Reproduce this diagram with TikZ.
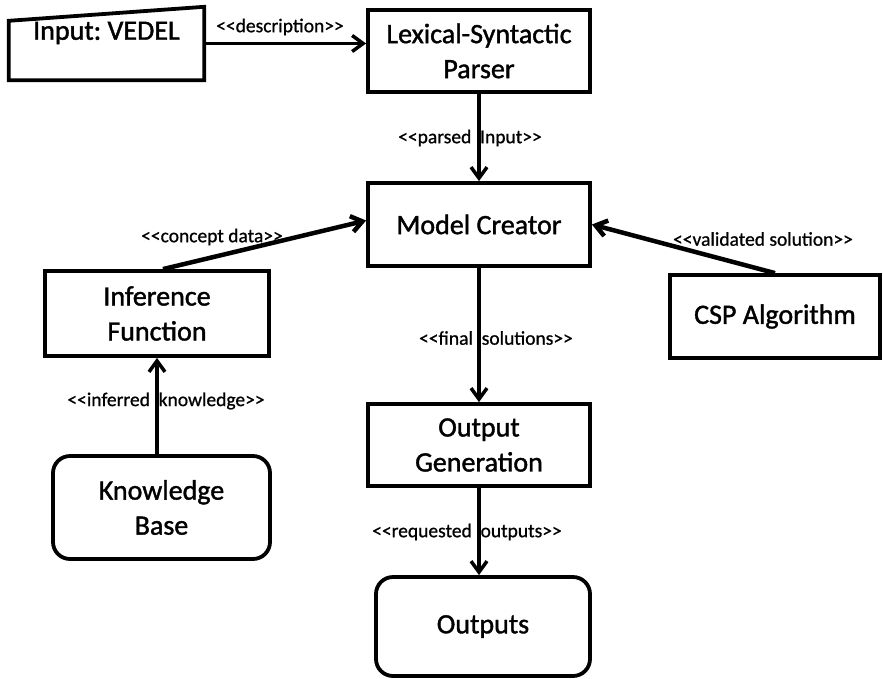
\documentclass[tikz,border=0pt]{standalone}
\usepackage{fontspec}
\setmainfont{Carlito}
\newfontfamily\heavyfont{Carlito}[FakeBold=1.4]
\newfontfamily\labfont{Carlito}[FakeBold=0.8]
\usetikzlibrary{arrows.meta,calc}
\newcommand{\stl}{<\kern0pt<}
\newcommand{\stg}{>\kern0pt>}
\begin{document}
\begin{tikzpicture}[x=1pt,y=-1pt,
  boxtext/.style={font=\heavyfont\fontsize{28}{35}\selectfont, align=center},
  box/.style={draw, line width=3.8pt, inner sep=0pt, boxtext},
  rbox/.style={box, rounded corners=17pt},
  lab/.style={font=\labfont\fontsize{19.5}{22}\selectfont, inner sep=0pt},
  conn/.style={line width=3.5pt, -{Straight Barb[length=11pt,width=16pt]}},
  thickconn/.style={line width=4.5pt, -{Straight Barb[length=11pt,width=16pt]}}
]
\useasboundingbox (0,0) rectangle (883,678);

% Nodes
\node[inner sep=0pt, minimum width=195pt, minimum height=73pt] (input) at (106.5,43.5) {};
\draw[line width=3.8pt, line join=miter] (input.south west) -- (input.south east) -- (input.north east) -- ($(input.north west)+(0,14)$) -- cycle;
\node[boxtext] (inputtxt) at (106.5,33) {Input:\ VEDEL};

\node[box, minimum width=222pt, minimum height=82pt] (parser) at (479,51) {Lexical-Syntactic\\Parser};
\node[box, minimum width=222pt, minimum height=83pt] (model) at (479,224.5) {Model Creator};
\node[box, minimum width=224pt, minimum height=85pt] (inf) at (157,313.5) {Inference\\Function};
\node[box, minimum width=210pt, minimum height=83pt] (csp) at (775,316.5) {CSP Algorithm};
\node[rbox, minimum width=217pt, minimum height=103pt] (kb) at (161.5,507.5) {Knowledge\\Base};
\node[box, minimum width=222pt, minimum height=82pt] (outgen) at (479,445) {Output\\Generation};
\node[rbox, minimum width=214pt, minimum height=99pt] (outputs) at (483,626.5) {Outputs};

% Connectors
\draw[conn] (input.east) -- (input.east -| parser.west);
\draw[conn] (parser.south) -- (model.north);
\draw[thickconn] ($(inf.north)+(6,0)$) -- ($(model.west)+(0,-4)$);
\draw[thickconn] (csp.north) -- (model.east);
\draw[conn] (model.south) -- (outgen.north);
\draw[conn] (inf.south |- kb.north) -- (inf.south);
\draw[conn] (outgen.south) -- (outgen.south |- outputs.north);

% Labels
\node[lab] (l1) at (280,27) {\stl description\stg};
\node[lab] (l2) at (470,138) {\stl parsed\ \ Input\stg};
\node[lab] (l3) at (212,237) {\stl concept data\stg};
\node[lab] (l4) at (763,239) {\stl validated solution\stg};
\node[lab] (l5) at (496,338) {\stl final\ \ solutions\stg};
\node[lab] (l6) at (166,401) {\stl inferred\ \ knowledge\stg};
\node[lab] (l7) at (467,532) {\stl requested\ \ outputs\stg};
\end{tikzpicture}
\end{document}
